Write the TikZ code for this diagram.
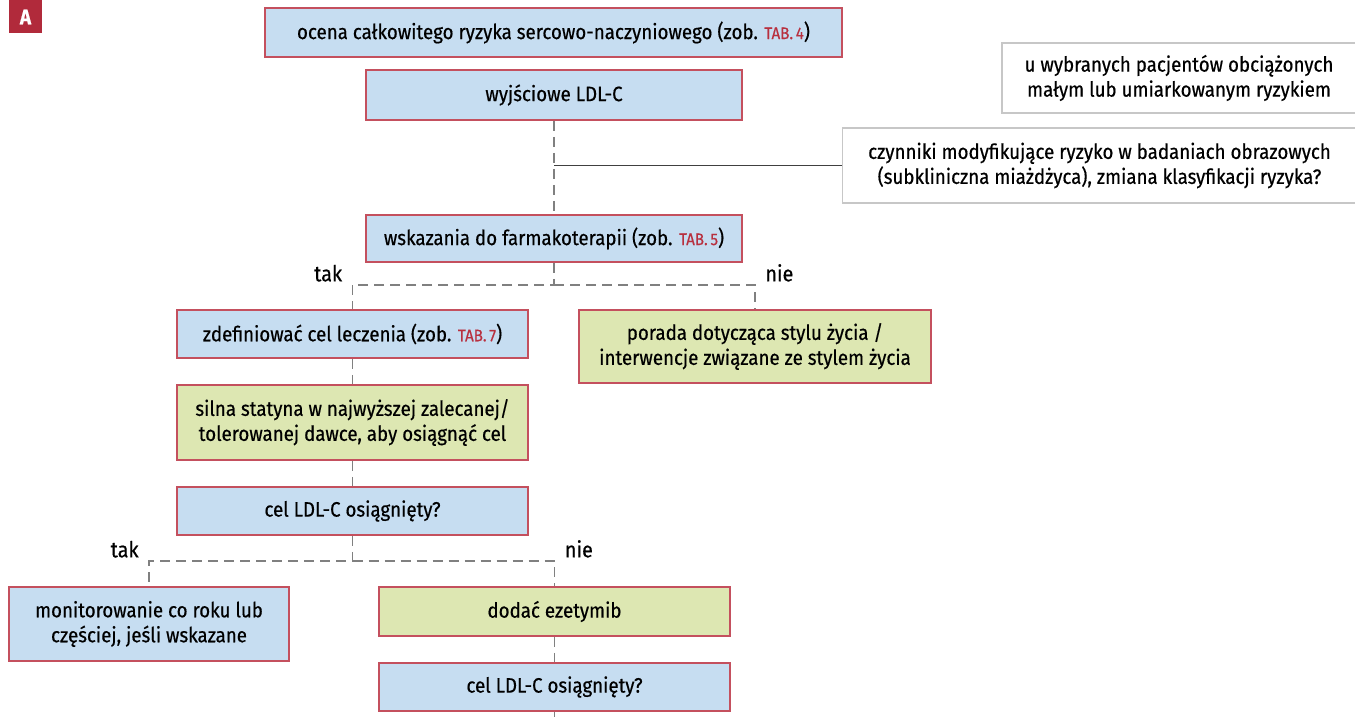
\documentclass[tikz,border=0pt]{standalone}
\usepackage{fontspec}
\setmainfont{Fira Sans}[FakeStretch=0.9,FakeBold=0.5]
\usepackage{tikz}
\usetikzlibrary{positioning,calc}
\definecolor{boxred}{HTML}{C4505E}
\definecolor{boxblue}{HTML}{C6DDF1}
\definecolor{boxgreen}{HTML}{DDE7B2}
\definecolor{tabred}{HTML}{B8303F}
\definecolor{linegray}{HTML}{808080}
\definecolor{badgered}{HTML}{B12A3B}
\tikzstyle{bluebox}=[draw=boxred,fill=boxblue,line width=0.8pt,align=center,inner sep=0pt]
\tikzstyle{greenbox}=[draw=boxred,fill=boxgreen,line width=0.8pt,align=center,inner sep=0pt]
\tikzstyle{notebox}=[draw=black!22,fill=white,line width=0.7pt,align=center,inner sep=0pt]
\tikzstyle{dashlink}=[draw=linegray,line width=0.6pt,dash pattern=on 5pt off 3pt]
\tikzstyle{solidlink}=[draw=black!75,line width=0.5pt]
\tikzstyle{answer}=[inner sep=1pt,font=\fontsize{11}{13}\selectfont]
\newcommand{\tabno}[1]{{\color{tabred}\fontsize{8.4}{10}\selectfont TAB.\,#1}}

\begin{document}
\begin{tikzpicture}[x=0.5pt,y=-0.5pt,font=\fontsize{10.4}{12.5}\selectfont]
    \useasboundingbox (0,0) rectangle (1355,717);
    % badge
    \node [fill=badgered,text=white,minimum size=16.5pt,inner sep=0pt,font=\bfseries\fontsize{10.5}{11}\selectfont] (badge) at (25.5,17) {A};
    % main column
    \node [bluebox,minimum width=288.5pt,minimum height=24.5pt] (risk) at (553.5,32.5)
      {ocena całkowitego ryzyka sercowo-naczyniowego (zob. \tabno{4})};
    \node [bluebox,minimum width=188pt,minimum height=25pt] (base) at (554,95) {wyjściowe LDL-C};
    \node [bluebox,minimum width=188pt,minimum height=23.5pt] (indic) at (554,238.5)
      {wskazania do farmakoterapii (zob. \tabno{5})};
    % side notes
    \node [notebox,minimum width=177pt,minimum height=35pt] (select) at (1179,78)
      {u wybranych pacjentów obciążonych\\małym lub umiarkowanym ryzykiem};
    \node [notebox,minimum width=257pt,minimum height=37.5pt] (modif) at (1099.5,165.5)
      {czynniki modyfikujące ryzyko w badaniach obrazowych\\(subkliniczna miażdżyca), zmiana klasyfikacji ryzyka?};
    % first decision
    \node [bluebox,minimum width=175.5pt,minimum height=24pt] (target) at (352.5,334)
      {zdefiniować cel leczenia (zob. \tabno{7})};
    \node [greenbox,minimum width=176pt,minimum height=36.5pt] (life) at (755,346.5)
      {porada dotycząca stylu życia /\\interwencje związane ze stylem życia};
    \node [greenbox,minimum width=175.5pt,minimum height=37.5pt] (statin) at (352.5,422.5)
      {silna statyna w najwyższej zalecanej/\\tolerowanej dawce, aby osiągnąć cel};
    \node [bluebox,minimum width=175.5pt,minimum height=24pt] (goal1) at (352.5,511) {cel LDL-C osiągnięty?};
    % second decision
    \node [bluebox,minimum width=140pt,minimum height=37pt] (monit) at (149,624)
      {monitorowanie co roku lub\\częściej, jeśli wskazane};
    \node [greenbox,minimum width=175.5pt,minimum height=24.5pt] (ezet) at (554.5,611.5) {dodać ezetymib};
    \node [bluebox,minimum width=175.5pt,minimum height=24pt] (goal2) at (554.5,687) {cel LDL-C osiągnięty?};

    \coordinate (split1) at (554,285);
    \coordinate (split2) at (352.5,561);
    \coordinate (tail) at (554.5,717);

    % connectors
    \draw [dashlink] (base) -- (indic);
    \draw [solidlink] (base.south |- modif.west) -- (modif.west);
    \draw [dashlink] (indic) -- (split1) -| (target.north);
    \draw [dashlink] (split1) -| (life.north);
    \draw [dashlink] (target) -- (statin);
    \draw [dashlink] (statin) -- (goal1);
    \draw [dashlink] (goal1) -- (split2) -| (monit.north);
    \draw [dashlink] (split2) -| (ezet.north);
    \draw [dashlink] (ezet) -- (goal2);
    \draw [dashlink] (goal2) -- (tail);

    % answers
    \node [answer,anchor=south east] (yes1) at ($(target.north |- split1)+(-8,-1)$) {tak};
    \node [answer,anchor=south west] (no1) at ($(life.north |- split1)+(8,-1)$) {nie};
    \node [answer,anchor=south east] (yes2) at ($(monit.north |- split2)+(-8,-1)$) {tak};
    \node [answer,anchor=south west] (no2) at ($(ezet.north |- split2)+(8,-1)$) {nie};
\end{tikzpicture}
\end{document}
